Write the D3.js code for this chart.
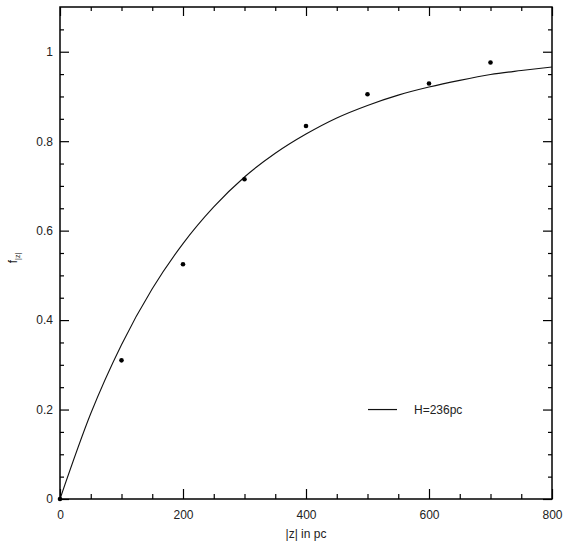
<!DOCTYPE html>
<html>
<head>
<meta charset="utf-8">
<script src="https://cdn.jsdelivr.net/npm/d3@7"></script>
<style>
  body { margin: 0; background: #fff; }
  svg { font-family: "Liberation Sans", Arial, sans-serif; }
  .axis path { display: none; }
  .axis line { stroke: #000; stroke-width: 1.2; }
  .axis text { fill: #222; font-size: 12px; }
</style>
</head>
<body>
<svg width="570" height="546"></svg>
<script>
// observed points
var obsZ = [0, 100, 200, 300, 400, 500, 600, 700];
var obsF = [0, 0.31, 0.525, 0.715, 0.834, 0.905, 0.929, 0.976];

// fitted curve, every 50 pc
var fitZ = [0, 50, 100, 150, 200, 250, 300, 350, 400, 450, 500, 550, 600, 650, 700, 750, 800];
var fitF = [0, 0.191, 0.345, 0.47, 0.571, 0.653, 0.72, 0.773, 0.816, 0.852, 0.88, 0.903, 0.921, 0.936, 0.949, 0.958, 0.966];

var xMajor = [0, 200, 400, 600, 800];
var yMajor = [0, 0.2, 0.4, 0.6, 0.8, 1];
var legendLabel = "H=236pc";

var svg = d3.select("svg"),
    margin = {top: 7, right: 18, bottom: 47, left: 60},
    width = +svg.attr("width") - margin.left - margin.right,
    height = +svg.attr("height") - margin.top - margin.bottom;

var x = d3.scaleLinear().domain([0, 800]).range([0, width]),
    y = d3.scaleLinear().domain([0, 1.1]).range([height, 0]);

// minor ticks every 50 pc and every 0.05
var xMinor = d3.range(0, 801, 50).filter(function(v) { return v % 200 !== 0; }),
    yMinor = d3.range(0, 22).map(function(i) { return +(i * 0.05).toFixed(2); })
               .filter(function(v) { return yMajor.indexOf(v) < 0 && v < 1.1; });

var g = svg.append("g")
    .attr("transform", "translate(" + margin.left + "," + margin.top + ")");

function fmt(d) { return d3.format("")(+d.toFixed(1)); }

// ticks, all pointing inward
g.append("g").attr("class", "axis")
    .attr("transform", "translate(0," + height + ")")
    .call(d3.axisBottom(x).tickValues(xMajor).tickSize(-10).tickPadding(11).tickFormat(d3.format("d")));
g.append("g").attr("class", "axis")
    .attr("transform", "translate(0," + height + ")")
    .call(d3.axisBottom(x).tickValues(xMinor).tickSize(-5).tickFormat(""));
g.append("g").attr("class", "axis")
    .call(d3.axisTop(x).tickValues(xMajor).tickSize(-9).tickFormat(""));
g.append("g").attr("class", "axis")
    .call(d3.axisTop(x).tickValues(xMinor).tickSize(-4).tickFormat(""));

g.append("g").attr("class", "axis")
    .call(d3.axisLeft(y).tickValues(yMajor).tickSize(-9).tickPadding(7).tickFormat(fmt));
g.append("g").attr("class", "axis")
    .call(d3.axisLeft(y).tickValues(yMinor).tickSize(-4).tickFormat(""));
g.append("g").attr("class", "axis")
    .attr("transform", "translate(" + width + ",0)")
    .call(d3.axisRight(y).tickValues(yMajor).tickSize(-9).tickFormat(""));
g.append("g").attr("class", "axis")
    .attr("transform", "translate(" + width + ",0)")
    .call(d3.axisRight(y).tickValues(yMinor).tickSize(-4).tickFormat(""));

// frame
g.append("rect")
    .attr("width", width)
    .attr("height", height)
    .attr("fill", "none")
    .attr("stroke", "#000")
    .attr("stroke-width", 1.5);

// fit curve
var line = d3.line()
    .curve(d3.curveMonotoneX)
    .x(function(d) { return x(d[0]); })
    .y(function(d) { return y(d[1]); });

g.append("path")
    .datum(d3.zip(fitZ, fitF))
    .attr("fill", "none")
    .attr("stroke", "#111")
    .attr("stroke-width", 1.1)
    .attr("d", line);

// points
g.selectAll(".dot")
    .data(d3.zip(obsZ, obsF))
  .enter().append("circle")
    .attr("class", "dot")
    .attr("cx", function(d) { return x(d[0]); })
    .attr("cy", function(d) { return y(d[1]); })
    .attr("r", 2.3)
    .attr("fill", "#000");

// legend
var ly = y(0.2);
g.append("line")
    .attr("x1", 308).attr("x2", 337)
    .attr("y1", ly).attr("y2", ly)
    .attr("stroke", "#111").attr("stroke-width", 1.2);
g.append("text")
    .attr("x", 354).attr("y", ly)
    .attr("dy", "0.35em")
    .attr("font-size", 12)
    .attr("fill", "#222")
    .text(legendLabel);

// axis titles
svg.append("text")
    .attr("x", margin.left + width / 2)
    .attr("y", 538)
    .attr("text-anchor", "middle")
    .attr("font-size", 12)
    .attr("fill", "#222")
    .text("|z| in pc");

var yt = svg.append("text")
    .attr("transform", "translate(17,258) rotate(-90)")
    .attr("text-anchor", "middle")
    .attr("font-size", 12)
    .attr("fill", "#222");
yt.append("tspan").text("f");
yt.append("tspan").attr("font-size", 7).attr("dy", 3).text("|z|");
</script>
</body>
</html>
